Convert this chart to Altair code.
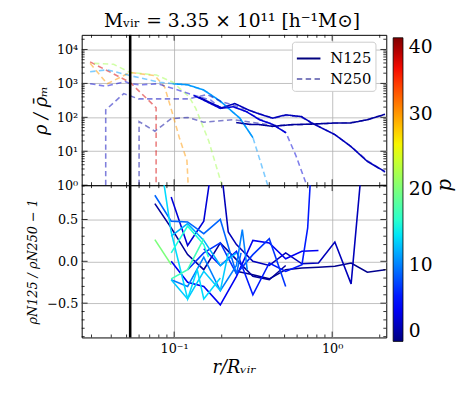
import altair as alt
import pandas as pd

# ---------------- data ----------------
# top panel: density profiles rho/rho_m, N250 (dashed) and N125 (solid)
P37_N250_X = [0.0294, 0.0525, 0.0769, 0.0769]
P37_N250_Y = [4300, 1080, 192, 1]
P30_N250_X = [0.0294, 0.0377, 0.0525, 0.0755, 0.0871, 0.0982, 0.1079, 0.1205, 0.1227]
P30_N250_Y = [3900, 975, 2100, 1700, 780, 118, 25, 5.3, 1]
P22_N250_X = [0.0311, 0.0414, 0.0525, 0.0773, 0.0982, 0.1245, 0.137, 0.1656, 0.2005]
P22_N250_Y = [3900, 3650, 2100, 1770, 1080, 400, 183, 20, 1]
P11_N250_X = [0.0294, 0.0377, 0.0525, 0.0807, 0.1, 0.1216, 0.154, 0.196, 0.2607, 0.3155, 0.391]
P11_N250_Y = [2200, 2520, 1700, 1080, 975, 910, 620, 287, 94, 25, 1]
P3_N250_X = [0.0294, 0.0369, 0.049, 0.0527, 0.061, 0.079, 0.1, 0.133, 0.17, 0.196, 0.237, 0.287,
             0.347, 0.42, 0.51, 0.59, 0.69]
P3_N250_Y = [975, 830, 1130, 975, 910, 975, 690, 450, 325, 190, 200, 147, 88, 62, 35, 7.4, 1]
P2_N250_X = [0.0369, 0.0369, 0.048, 0.0595, 0.079, 0.124, 0.162, 0.196, 0.26, 0.347, 0.42, 0.51,
             0.64, 0.741, 1.04, 1.31, 1.67, 2.16]
P2_N250_Y = [1, 165, 500, 350, 350, 350, 470, 300, 200, 127, 92, 116, 100, 70, 31, 14, 5.3, 2.4]
P1_N250_X = [0.06, 0.06, 0.0755, 0.0958, 0.1216, 0.154, 0.237, 0.347, 0.42, 0.559, 0.741, 1.04,
             1.31, 1.67, 2.16]
P1_N250_Y = [1, 75, 39, 91, 99, 72, 85, 66, 58, 60, 63, 67, 70, 85, 118]

P11_N125_X = [0.098, 0.1216, 0.154, 0.196, 0.2607, 0.3155]
P11_N125_Y = [975, 910, 640, 300, 94, 25]
P3_N125_X = [0.133, 0.154, 0.196, 0.237, 0.287, 0.347, 0.42, 0.51]
P3_N125_Y = [440, 320, 183, 205, 147, 85, 62, 35]
P2_N125_X = [0.143, 0.165, 0.2, 0.242, 0.3, 0.347, 0.42, 0.51, 0.64, 0.741, 1.04, 1.31, 1.67, 2.16]
P2_N125_Y = [400, 287, 190, 255, 160, 125, 95, 118, 105, 68, 31, 14, 5, 2.5]
P1_N125_X = [0.247, 0.3, 0.347, 0.42, 0.559, 0.741, 1.04, 1.31, 1.67, 2.16]
P1_N125_Y = [70, 62, 61, 54, 61, 63, 68, 68, 85, 123]

# bottom panel: rho_N125 / rho_N250 - 1
RA_P, RA_X, RA_V = 0.5, [0.248, 0.315, 0.40, 0.508, 0.644, 0.819, 1.04, 1.318, 1.67, 2.17], \
    [-0.12, -0.16, -0.21, -0.1, -0.08, -0.07, -0.06, -0.02, -0.13, -0.1]
RB_P, RB_X, RB_V = 2, [0.196, 0.22, 0.248, 0.315, 0.40, 0.508, 0.644, 0.819, 1.04, 1.318, 1.55], \
    [1.2, 0.35, 0.2, 0.0, -0.05, 0.1, -0.03, -0.02, 0.23, -0.27, 1.2]
RC_P, RC_X, RC_V = 3, [0.0958, 0.1217, 0.154, 0.175], [0.77, 0.19, 0.48, 1.2]
RD_P, RD_X, RD_V = 1, [0.0755, 0.0958, 0.1217, 0.154, 0.196, 0.248, 0.315, 0.40, 0.508], \
    [0.69, 0.4, 0.08, -0.1, 0.22, 0.02, -0.18, -0.22, -0.05]
RE_P, RE_X, RE_V = 4, [0.0958, 0.1217, 0.154, 0.196, 0.248, 0.315, 0.40, 0.508, 0.644, 0.819], \
    [0.0, -0.25, -0.3, -0.52, -0.18, 0.25, 0.22, 0.03, 0.12, 0.13]
RF_P, RF_X, RF_V = 6, [0.154, 0.196, 0.248, 0.315, 0.40, 0.508, 0.644, 0.70, 0.74], \
    [0.15, -0.05, 0.12, -0.4, -0.02, -0.12, -0.04, 0.4, 1.2]
RG_P, RG_X, RG_V = 7, [0.1217, 0.154, 0.196, 0.248, 0.315, 0.40, 0.508], \
    [-0.1, 0.1, 0.22, -0.15, 0.08, 0.27, -0.3]
RH_P, RH_X, RH_V = 9, [0.0755, 0.0958, 0.1217, 0.154, 0.196, 0.248, 0.265], \
    [0.79, 0.48, 0.47, 0.33, 0.5, -0.15, 0.1]
RI_P, RI_X, RI_V = 10, [0.0958, 0.1217, 0.154, 0.196, 0.248, 0.27, 0.29], \
    [-0.22, -0.3, 0.05, -0.35, -0.05, 0.38, -0.1]
RJ_P, RJ_X, RJ_V = 12, [0.0958, 0.1217, 0.154, 0.196, 0.248], [0.3, 0.45, 0.25, -0.05, 0.1]
RK_P, RK_X, RK_V = 13, [0.0958, 0.1217, 0.154, 0.196, 0.22], [-0.22, -0.45, -0.12, -0.35, 0.1]
RL_P, RL_X, RL_V = 13.6, [0.082, 0.0958, 0.1217, 0.14, 0.154, 0.196], [1.2, 0.35, -0.45, -0.1, -0.45, -0.2]
RM_P, RM_X, RM_V = 15.5, [0.0958, 0.1217, 0.154, 0.165], [0.1, 0.42, 0.2, 0.05]
RN_P, RN_X, RN_V = 17, [0.0958, 0.1217, 0.154], [-0.21, -0.1, 0.27]
RO_P, RO_X, RO_V = 20, [0.0755, 0.0958], [0.26, -0.04]

VLINE_X = [0.0527]

SIM_NAMES = ["N125", "N250"]
X_MAJOR = [0.1, 1.0]
X_MINOR = [0.03, 0.04, 0.05, 0.06, 0.07, 0.08, 0.09, 0.2, 0.3, 0.4, 0.5, 0.6, 0.7, 0.8, 0.9, 2.0]
TOP_Y_MAJOR = [1, 10, 100, 1000, 10000]
TOP_Y_MINOR = [m * d for d in [1, 10, 100, 1000] for m in range(2, 10)] + [20000]
BOT_Y_MAJOR = [-0.5, 0.0, 0.5]
BOT_Y_MINOR = [-0.9, -0.8, -0.7, -0.6, -0.4, -0.3, -0.2, -0.1, 0.1, 0.2, 0.3, 0.4, 0.6, 0.7, 0.8, 0.9]
CBAR_TITLE = ["p"]

# jet colormap stops (fraction of 0..40)
JET_T = [0, 0.11, 0.125, 0.34, 0.35, 0.375, 0.5, 0.64, 0.65, 0.66, 0.89, 0.91, 1]
JET_C = ["#000080", "#0000ff", "#0000ff", "#00dbff", "#00e6f7", "#15ffe2", "#7bff7b",
         "#eeff08", "#f7f500", "#ffec00", "#ff1300", "#e80000", "#800000"]

# ---------------- build tables ----------------
top_lines = [
    ("P11_N125", 11, "N125", P11_N125_X, P11_N125_Y),
    ("P3_N125", 3, "N125", P3_N125_X, P3_N125_Y),
    ("P2_N125", 2, "N125", P2_N125_X, P2_N125_Y),
    ("P1_N125", 1, "N125", P1_N125_X, P1_N125_Y),
    ("P37_N250", 37, "N250", P37_N250_X, P37_N250_Y),
    ("P30_N250", 30, "N250", P30_N250_X, P30_N250_Y),
    ("P22_N250", 22, "N250", P22_N250_X, P22_N250_Y),
    ("P11_N250", 11, "N250", P11_N250_X, P11_N250_Y),
    ("P3_N250", 3, "N250", P3_N250_X, P3_N250_Y),
    ("P2_N250", 2, "N250", P2_N250_X, P2_N250_Y),
    ("P1_N250", 1, "N250", P1_N250_X, P1_N250_Y),
]
rows = []
for name, p, sim, xs, ys in top_lines:
    for i, (x, y) in enumerate(zip(xs, ys)):
        rows.append({"line": name, "p": p, "sim": sim, "x": x, "y": y, "i": i})
top_df = pd.DataFrame(rows)

bot_lines = [
    ("RA", RA_P, RA_X, RA_V), ("RD", RD_P, RD_X, RD_V), ("RB", RB_P, RB_X, RB_V),
    ("RC", RC_P, RC_X, RC_V), ("RE", RE_P, RE_X, RE_V), ("RF", RF_P, RF_X, RF_V),
    ("RG", RG_P, RG_X, RG_V), ("RH", RH_P, RH_X, RH_V), ("RI", RI_P, RI_X, RI_V),
    ("RJ", RJ_P, RJ_X, RJ_V), ("RK", RK_P, RK_X, RK_V), ("RL", RL_P, RL_X, RL_V),
    ("RM", RM_P, RM_X, RM_V), ("RN", RN_P, RN_X, RN_V), ("RO", RO_P, RO_X, RO_V),
]
rows = []
for name, p, xs, vs in bot_lines:
    for i, (x, v) in enumerate(zip(xs, vs)):
        rows.append({"line": name, "p": p, "x": x, "v": v, "i": i})
bot_df = pd.DataFrame(rows)

# ---------------- layout constants ----------------
W = 310
H_TOP = 153
H_BOT = 155
FONT = "DejaVu Serif"

XS = alt.Scale(type="log", domain=[0.026, 2.2], nice=False)
TYS = alt.Scale(type="log", domain=[1, 27000], nice=False)
BYS = alt.Scale(domain=[-0.91, 0.91], nice=False, zero=False)
COLS = alt.Scale(domain=[t * 40 for t in JET_T], range=JET_C, interpolate="rgb")

LEG_X0 = 0   # legend offsets relative to the concat origin
LEG_Y0 = 3

cbar_legend = alt.Legend(
    orient="none", legendX=LEG_X0 + 317, legendY=LEG_Y0, direction="vertical",
    gradientLength=309, gradientThickness=10, values=[0, 10, 20, 30, 40],
    labelFontSize=19, labelFont=FONT, labelColor="black", labelOffset=6,
    title=None, gradientStrokeColor="black", gradientStrokeWidth=0.8)


def sim_legend():
    return alt.Legend(
        orient="none", legendX=LEG_X0 + 214, legendY=LEG_Y0 + 4, title=None,
        symbolType="stroke", symbolStrokeColor="#00007f", symbolStrokeWidth=2,
        symbolSize=576, labelFont=FONT, labelFontSize=15, labelColor="black",
        fillColor="white", strokeColor="#cccccc", cornerRadius=3, padding=4,
        rowPadding=-3, labelOffset=9)


def tick_layers(yscale, H, x_major, x_minor, y_major, y_minor):
    layers = []
    for vals, L in [(x_major, 6), (x_minor, 3)]:
        base = alt.Chart(pd.DataFrame({"x": vals})).mark_rule(color="black", strokeWidth=0.8)
        xx = alt.X("x:Q", scale=XS)
        layers.append(base.encode(x=xx, y=alt.value(0), y2=alt.value(L)))
        layers.append(base.encode(x=xx, y=alt.value(H), y2=alt.value(H - L)))
    for vals, L in [(y_major, 6), (y_minor, 3)]:
        base = alt.Chart(pd.DataFrame({"ty": vals})).mark_rule(color="black", strokeWidth=0.8)
        yy = alt.Y("ty:Q", scale=yscale)
        layers.append(base.encode(y=yy, x=alt.value(0), x2=alt.value(L)))
        layers.append(base.encode(y=yy, x=alt.value(W), x2=alt.value(W - L)))
    return layers


grid_kw = dict(grid=True, gridColor="#b0b0b0", gridWidth=0.8, ticks=False, domain=False)

top_lines_chart = alt.Chart(top_df).mark_line(strokeWidth=1.6, clip=True).encode(
    x=alt.X("x:Q", scale=XS, axis=alt.Axis(values=X_MAJOR, labels=False, title=None,
                                           labelPadding=0, minExtent=0, maxExtent=0, **grid_kw)),
    y=alt.Y("y:Q", scale=TYS, axis=alt.Axis(
        values=TOP_Y_MAJOR, title="ρ / ρ̄ₘ", titleFontSize=18, titleFontStyle="italic",
        labelFontSize=13, labelPadding=4, titlePadding=6,
        labelExpr="datum.value < 5 ? '10⁰' : datum.value < 50 ? '10¹' : datum.value < 500 ? '10²' : datum.value < 5000 ? '10³' : '10⁴'",
        **grid_kw)),
    color=alt.Color("p:Q", scale=COLS, legend=cbar_legend),
    strokeDash=alt.StrokeDash("sim:N", scale=alt.Scale(domain=SIM_NAMES, range=[[1, 0], [5.5, 3.5]]),
                              legend=sim_legend()),
    opacity=alt.Opacity("sim:N", scale=alt.Scale(domain=SIM_NAMES, range=[1.0, 0.5]),
                        legend=sim_legend()),
    detail="line:N",
    order="i:Q",
)

vline_top = alt.Chart(pd.DataFrame({"x": VLINE_X})).mark_rule(color="black", strokeWidth=2.6).encode(
    x=alt.X("x:Q", scale=XS))

cbar_title = alt.Chart(pd.DataFrame({"t": CBAR_TITLE})).mark_text(
    font=FONT, fontSize=20, fontStyle="italic", angle=270, color="black").encode(
    text="t:N", x=alt.value(W + 60), y=alt.value(H_TOP))

top = alt.layer(top_lines_chart, vline_top, *tick_layers(TYS, H_TOP, X_MAJOR, X_MINOR,
                                                         TOP_Y_MAJOR, TOP_Y_MINOR),
                cbar_title).properties(
    width=W, height=H_TOP,
    title=alt.TitleParams("Mᵥᵢᵣ = 3.35 × 10¹¹ [h⁻¹M⊙]", fontSize=19, font=FONT,
                          fontWeight="normal", color="black", offset=3, dx=-2))

bot_lines_chart = alt.Chart(bot_df).mark_line(strokeWidth=1.6, clip=True).encode(
    x=alt.X("x:Q", scale=XS, axis=alt.Axis(
        values=X_MAJOR, title="r/Rᵥᵢᵣ", titleFontSize=18, titleFontStyle="italic",
        labelFontSize=13, labelPadding=5, titlePadding=4,
        labelExpr="datum.value < 0.5 ? '10⁻¹' : '10⁰'", **grid_kw)),
    y=alt.Y("v:Q", scale=BYS, axis=alt.Axis(
        values=BOT_Y_MAJOR, format=".1f", title="ρN125 / ρN250 − 1", titleFontSize=13,
        titleFontStyle="italic", labelFontSize=13, labelPadding=4, titlePadding=7, **grid_kw)),
    color=alt.Color("p:Q", scale=COLS, legend=cbar_legend),
    detail="line:N",
    order="i:Q",
)

vline_bot = alt.Chart(pd.DataFrame({"x": VLINE_X})).mark_rule(color="black", strokeWidth=2.6).encode(
    x=alt.X("x:Q", scale=XS))

bottom = alt.layer(bot_lines_chart, vline_bot, *tick_layers(BYS, H_BOT, X_MAJOR, X_MINOR,
                                                            BOT_Y_MAJOR, BOT_Y_MINOR)).properties(
    width=W, height=H_BOT)

chart = alt.vconcat(top, bottom, spacing=0, bounds="flush").resolve_scale(
    color="shared").properties(
    padding={"left": 18, "top": 0, "right": 2, "bottom": 0}
).configure(font=FONT).configure_view(
    stroke="black", strokeWidth=1
).configure_axis(
    labelColor="black", titleColor="black", labelFont=FONT, titleFont=FONT,
    titleFontWeight="normal"
)

chart.save("out.html", embed_options={"renderer": "svg", "actions": False})
